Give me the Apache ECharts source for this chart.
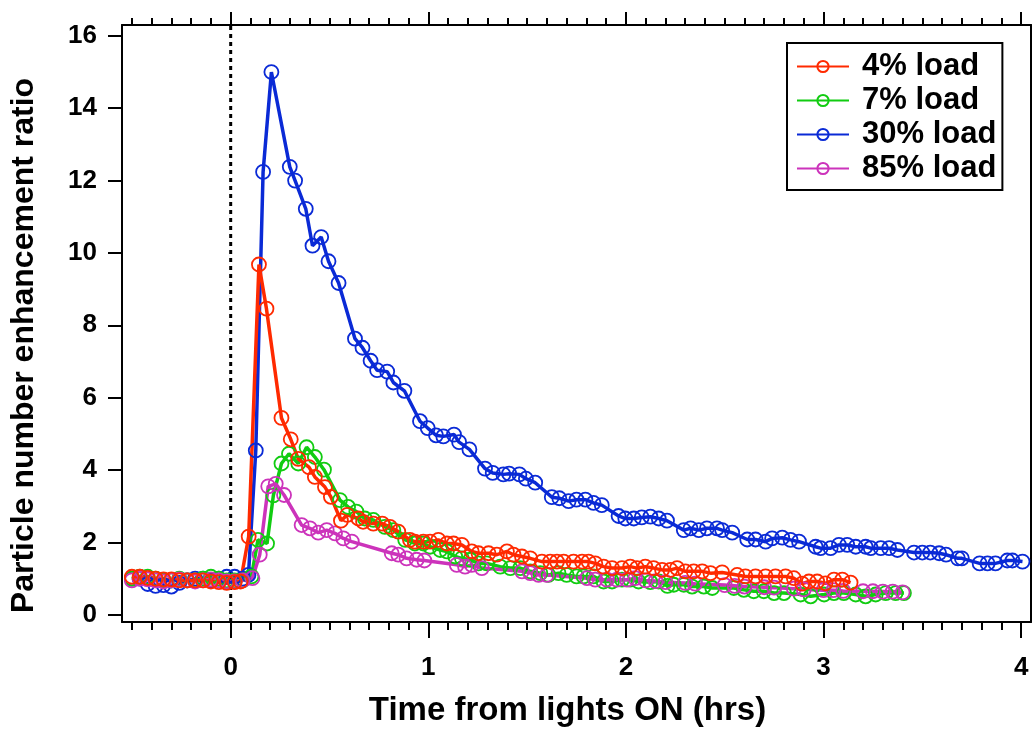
<!DOCTYPE html>
<html>
<head>
<meta charset="utf-8">
<script src="https://cdn.jsdelivr.net/npm/echarts@6/dist/echarts.min.js"></script>
<style>
html,body{margin:0;padding:0;background:#fff;}
#chart{width:1036px;height:732px;}
</style>
</head>
<body>
<div id="chart"></div>
<script>
// ---- data: [time (hrs), enhancement ratio] ----
const load4 = [[-0.5,1.05],[-0.46,1.05],[-0.42,1.02],[-0.38,1.0],[-0.34,0.98],[-0.3,0.98],[-0.26,0.95],[-0.22,0.95],[-0.18,0.95],[-0.14,0.95],[-0.1,0.92],[-0.06,0.9],[-0.02,0.88],[0.02,0.9],[0.05,0.92],
  [0.091,2.16],[0.143,9.68],[0.181,8.46],[0.257,5.44],[0.304,4.85],[0.342,4.31],[0.396,4.08],[0.426,3.81],[0.477,3.53],[0.507,3.26],[0.558,2.6],[0.59,2.76],[0.646,2.66],[0.67,2.57],[0.722,2.52],[0.767,2.52],[0.806,2.43],[0.848,2.3],[0.907,2.07],[0.932,2.02],[0.975,2.02],
  [1.009,2.02],[1.051,2.07],[1.094,1.97],[1.128,1.97],[1.17,1.93],[1.22,1.75],[1.254,1.7],[1.305,1.7],[1.347,1.66],[1.398,1.75],[1.431,1.66],[1.474,1.61],[1.516,1.56],[1.575,1.47],[1.617,1.47],[1.651,1.47],[1.685,1.47],[1.735,1.47],[1.778,1.47],[1.811,1.47],[1.845,1.42],[1.887,1.33],[1.93,1.29],[1.98,1.29],
  [2.022,1.33],[2.056,1.29],[2.098,1.33],[2.14,1.29],[2.183,1.24],[2.225,1.24],[2.259,1.29],[2.301,1.2],[2.343,1.2],[2.386,1.2],[2.428,1.15],[2.487,1.17],[2.563,1.1],[2.605,1.06],[2.656,1.06],[2.707,1.06],[2.757,1.06],[2.808,1.06],[2.85,1.01],[2.892,0.86],[2.926,0.92],[2.968,0.92],[3.01,0.87],[3.053,0.97],[3.095,0.97],[3.137,0.89]];

const load7 = [[-0.5,1.0],[-0.46,1.05],[-0.42,1.05],[-0.38,1.0],[-0.34,0.95],[-0.3,0.95],[-0.26,1.0],[-0.22,0.95],[-0.18,0.95],[-0.14,1.0],[-0.1,1.05],[-0.06,1.0],[-0.02,0.95],[0.02,0.95],[0.06,0.95],[0.105,1.06],
  [0.138,2.07],[0.184,1.97],[0.216,3.3],[0.257,4.18],[0.295,4.45],[0.342,4.18],[0.384,4.63],[0.426,4.36],[0.472,4.01],[0.553,3.17],[0.594,2.98],[0.636,2.85],[0.679,2.66],[0.722,2.62],[0.78,2.43],[0.823,2.34],[0.883,2.07],[0.932,1.97],[0.975,1.97],
  [1.009,1.88],[1.06,1.79],[1.094,1.75],[1.136,1.61],[1.17,1.56],[1.212,1.52],[1.254,1.42],[1.296,1.42],[1.364,1.33],[1.415,1.29],[1.465,1.29],[1.516,1.2],[1.567,1.15],[1.608,1.1],[1.659,1.15],[1.70,1.1],[1.75,1.06],[1.786,1.06],[1.836,1.06],[1.887,0.92],[1.93,0.92],[1.98,0.97],
  [2.022,0.97],[2.064,0.92],[2.124,0.9],[2.166,0.92],[2.21,0.8],[2.242,0.83],[2.293,0.83],[2.335,0.78],[2.394,0.78],[2.437,0.74],[2.546,0.74],[2.597,0.69],[2.647,0.65],[2.698,0.65],[2.75,0.6],[2.8,0.6],[2.884,0.56],[2.935,0.51],[3.003,0.56],[3.053,0.6],[3.103,0.6],[3.163,0.56],[3.213,0.51],[3.264,0.56],[3.315,0.6],[3.365,0.6],[3.407,0.6]];

const load30 = [[-0.5,1.0],[-0.46,1.0],[-0.42,0.85],[-0.38,0.8],[-0.34,0.82],[-0.3,0.78],[-0.26,0.88],[-0.22,0.95],[-0.18,1.0],[-0.14,1.0],[-0.1,0.95],[-0.06,1.0],[-0.02,1.05],[0.02,1.05],[0.06,1.0],[0.09,1.1],
  [0.127,4.54],[0.164,12.24],[0.206,15.0],[0.299,12.38],[0.326,12.0],[0.38,11.22],[0.414,10.2],[0.458,10.44],[0.495,9.77],[0.546,9.17],[0.629,7.63],[0.667,7.38],[0.708,7.02],[0.741,6.76],[0.792,6.72],[0.823,6.42],[0.879,6.19],[0.958,5.35],[0.997,5.16],
  [1.039,4.96],[1.076,4.93],[1.13,4.98],[1.156,4.77],[1.208,4.57],[1.287,4.04],[1.326,3.92],[1.38,3.88],[1.409,3.9],[1.461,3.88],[1.494,3.76],[1.541,3.65],[1.625,3.25],[1.663,3.22],[1.71,3.14],[1.75,3.18],[1.795,3.18],[1.836,3.09],[1.878,3.03],[1.963,2.73],[1.997,2.66],
  [2.04,2.66],[2.08,2.69],[2.124,2.71],[2.166,2.66],[2.208,2.6],[2.293,2.34],[2.327,2.39],[2.369,2.34],[2.41,2.39],[2.461,2.39],[2.487,2.34],[2.538,2.27],[2.614,2.08],[2.656,2.08],[2.707,2.02],[2.74,2.11],[2.791,2.13],[2.833,2.07],[2.876,2.02],[2.96,1.88],[2.985,1.84],
  [3.036,1.84],[3.078,1.93],[3.12,1.93],[3.163,1.88],[3.213,1.88],[3.239,1.84],[3.29,1.84],[3.332,1.84],[3.374,1.79],[3.458,1.72],[3.5,1.72],[3.54,1.72],[3.585,1.7],[3.62,1.66],[3.68,1.56],[3.7,1.56],[3.79,1.42],[3.83,1.42],[3.87,1.42],[3.93,1.5],[3.956,1.5],[4.007,1.47]];

const load85 = [[-0.5,0.95],[-0.46,1.0],[-0.42,0.98],[-0.38,0.95],[-0.34,0.92],[-0.3,0.95],[-0.26,0.98],[-0.22,0.95],[-0.18,0.92],[-0.14,0.95],[-0.1,0.98],[-0.06,0.95],[-0.02,0.92],[0.02,0.92],[0.06,0.95],[0.11,1.01],
  [0.147,1.66],[0.19,3.55],[0.228,3.62],[0.27,3.31],[0.359,2.48],[0.401,2.39],[0.443,2.27],[0.486,2.34],[0.528,2.25],[0.57,2.11],[0.613,2.02],[0.815,1.7],[0.848,1.66],[0.89,1.56],[0.941,1.52],[0.98,1.5],
  [1.144,1.38],[1.186,1.33],[1.22,1.38],[1.271,1.29],[1.474,1.2],[1.516,1.15],[1.558,1.1],[1.6,1.1],[1.803,1.01],[1.845,0.97],[1.904,0.97],[1.955,0.97],[2.005,0.97],[2.047,1.01],
  [2.1,0.95],[2.15,0.93],[2.2,0.9],[2.3,0.88],[2.35,0.86],[2.5,0.82],[2.55,0.8],[2.6,0.78],[2.7,0.76],[2.75,0.75],[2.85,0.72],[2.9,0.7],[3.0,0.68],[3.05,0.68],[3.1,0.66],[3.2,0.65],[3.25,0.65],[3.3,0.64],[3.35,0.64],[3.4,0.62]];

const seriesNames = ['4% load','7% load','30% load','85% load'];
const xMajorTicks = [0,1,2,3,4];
const yMajorTicks = [0,2,4,6,8,10,12,14,16];
const lightsOn = [[0,-0.2],[0,16.3]];

// ---- layout / style ----
const FONT = '"Liberation Sans", Arial, sans-serif';
const X_MIN = -0.55, X_MAX = 4.05, Y_MIN = -0.2, Y_MAX = 16.3;
const xMinorTicks = [];
for (let i = -5; i <= 40; i++) { if (i % 10 !== 0) xMinorTicks.push(i / 10); }

const colors = {'4% load':'#ff2a00','7% load':'#11cc11','30% load':'#0a2ad6','85% load':'#cc33bb'};

function mkSeries(name, data) {
  const c = colors[name];
  return {
    name, type:'line', data,
    symbol:'circle', symbolSize:14,
    lineStyle:{color:c, width:3.5},
    itemStyle:{color:'rgba(255,255,255,0)', borderColor:c, borderWidth:1.8},
    emphasis:{disabled:true}, animation:false
  };
}

const axisLineStyle = {lineStyle:{color:'#000', width:2}};
function xAx(pos, ticks, len, showLine, labels) {
  return {
    type:'value', min:X_MIN, max:X_MAX, position:pos,
    axisLine:{show:showLine, onZero:false, ...axisLineStyle},
    axisTick:{show:true, customValues:ticks, length:len, lineStyle:{color:'#000', width:2}},
    axisLabel: labels ? {show:true, customValues:xMajorTicks, margin:33, color:'#000', fontFamily:FONT, fontWeight:'bold', fontSize:26} : {show:false},
    splitLine:{show:false}
  };
}

const option = {
  backgroundColor:'#fff',
  animation:false,
  grid:{left:122, right:5, top:25, bottom:106, containLabel:false},
  xAxis:[
    Object.assign(xAx('bottom', xMajorTicks, 16, true, true), {
      name:'Time from lights ON (hrs)', nameLocation:'middle', nameGap:72,
      nameTextStyle:{color:'#000', fontFamily:FONT, fontWeight:'bold', fontSize:33, padding:[0,18,0,0]}
    }),
    xAx('bottom', xMinorTicks, 8, false, false),
    xAx('top', xMajorTicks, 13, true, false),
    xAx('top', xMinorTicks, 7, false, false)
  ],
  yAxis:[
    {
      type:'value', min:Y_MIN, max:Y_MAX, position:'left',
      axisLine:{show:true, onZero:false, ...axisLineStyle},
      axisTick:{show:true, customValues:yMajorTicks, length:14, lineStyle:{color:'#000', width:2}},
      axisLabel:{customValues:yMajorTicks, margin:25, color:'#000', fontFamily:FONT, fontWeight:'bold', fontSize:26},
      splitLine:{show:false},
      name:'Particle number enhancement ratio', nameLocation:'middle', nameGap:82, nameRotate:90,
      nameTextStyle:{color:'#000', fontFamily:FONT, fontWeight:'bold', fontSize:32, padding:[0,44,0,0]}
    },
    {
      type:'value', min:Y_MIN, max:Y_MAX, position:'right',
      axisLine:{show:true, onZero:false, ...axisLineStyle},
      axisTick:{show:false}, axisLabel:{show:false}, splitLine:{show:false}
    }
  ],
  legend:{
    data:seriesNames, orient:'vertical', left:787, top:43,
    backgroundColor:'#fff', borderColor:'#000', borderWidth:2, borderRadius:0,
    padding:[8,6,6,9], itemGap:3, itemWidth:52, itemHeight:14,
    textStyle:{color:'#000', fontFamily:FONT, fontWeight:'bold', fontSize:31, lineHeight:31, padding:[0,0,0,8]}
  },
  series:[
    {
      name:'lights', type:'line', data:lightsOn, symbol:'none', silent:true,
      lineStyle:{color:'#000', width:3, type:[4,4]}, z:1, animation:false
    },
    mkSeries('30% load', load30),
    mkSeries('7% load', load7),
    mkSeries('85% load', load85),
    mkSeries('4% load', load4)
  ]
};

const chart = echarts.init(document.getElementById('chart'), null, {renderer:'canvas'});
chart.setOption(option);
</script>
</body>
</html>
